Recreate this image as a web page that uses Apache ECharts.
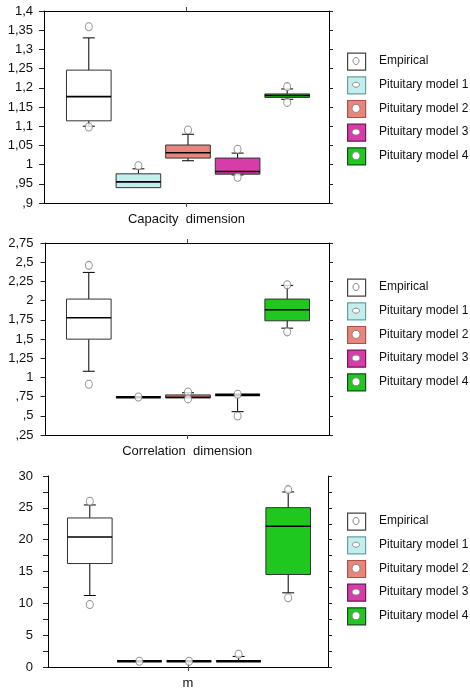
<!DOCTYPE html>
<html>
<head>
<meta charset="utf-8">
<title>Boxplots</title>
<script src="https://cdn.jsdelivr.net/npm/echarts@6/dist/echarts.min.js"></script>
<style>
    html, body { margin: 0; padding: 0; background: #fff; }
    #chart { width: 470px; height: 688px; }
</style>
</head>
<body>
<div id="chart"></div>
<script>
// 分组名称
var groups = ['Empirical', 'Pituitary model 1', 'Pituitary model 2', 'Pituitary model 3', 'Pituitary model 4'];
var panelNames = ['Capacity  dimension', 'Correlation  dimension', 'm'];

// 每组: [min, q1, median, q3, max]
var capacityBoxes = [
    [1.100, 1.114, 1.177, 1.246, 1.330],
    [0.940, 0.940, 0.955, 0.976, 0.989],
    [1.010, 1.017, 1.031, 1.051, 1.079],
    [0.973, 0.975, 0.982, 1.017, 1.030],
    [1.170, 1.175, 1.180, 1.184, 1.197]
];
var capacityOutliers = [[1.359, 1.098], [0.997], [1.090], [1.040, 0.967], [1.203, 1.162]];

var correlationBoxes = [
    [1.080, 1.498, 1.776, 2.020, 2.367],
    [0.740, 0.740, 0.742, 0.744, 0.744],
    [0.735, 0.735, 0.740, 0.772, 0.800],
    [0.554, 0.772, 0.772, 0.774, 0.774],
    [1.641, 1.737, 1.880, 2.020, 2.198]
];
var correlationOutliers = [[2.459, 0.911], [0.745], [0.810, 0.720], [0.780, 0.498], [2.207, 1.593]];

var mBoxes = [
    [11.23, 16.25, 20.43, 23.41, 25.45],
    [0.9, 0.9, 0.9, 0.9, 0.9],
    [0.9, 0.9, 0.9, 0.9, 0.9],
    [0.9, 0.9, 0.9, 0.9, 1.66],
    [11.65, 14.53, 22.10, 25.03, 27.49]
];
var mOutliers = [[26.03, 9.82], [0.9], [0.9], [2.0], [27.86, 10.87]];

// y 轴刻度: [min, max, interval]
var capacityTicks = [0.9, 1.4, 0.05];
var correlationTicks = [0.25, 2.75, 0.25];
var mTicks = [0, 30, 2.5];

var boxColors = ['#ffffff', '#c4eeee', '#e8857c', '#d83ca8', '#1ec81e'];
var legendBorders = ['#444444', '#6a9fa0', '#a8524a', '#6a1a55', '#1a4a1a'];
var legendDots = [[3, 3.5], [3.5, 2.5], [4, 4], [4, 3], [4, 4]];
var font = 'Liberation Sans, Arial, sans-serif';

// 1,35 / ,95 这种写法
function commaLabel(v) {
    var s = String(+v.toFixed(2)).replace('.', ',');
    if (s.indexOf('0,') === 0) s = s.slice(1);
    return s;
}
function fiveLabel(v) {
    return Math.abs(v % 5) < 1e-6 ? String(Math.round(v)) : '';
}

var panels = [
    { boxes: capacityBoxes, outliers: capacityOutliers, ticks: capacityTicks, fmt: commaLabel,
      frame: [44, 11, 285, 192], dataLeft: 64, margin: 11, legendTop: 61 },
    { boxes: correlationBoxes, outliers: correlationOutliers, ticks: correlationTicks, fmt: commaLabel,
      frame: [45.5, 243, 283.5, 192], dataLeft: 64, margin: 12, legendTop: 287 },
    { boxes: mBoxes, outliers: mOutliers, ticks: mTicks, fmt: fiveLabel,
      frame: [48, 476, 280, 191], dataLeft: 65, margin: 15, legendTop: 521 }
];

function renderBox(params, api) {
    var c = api.value(0);
    var lo = api.coord([c, api.value(1)]);
    var q1 = api.coord([c, api.value(2)]);
    var md = api.coord([c, api.value(3)]);
    var q3 = api.coord([c, api.value(4)]);
    var hi = api.coord([c, api.value(5)]);
    var bw = api.size([1, 0])[0] * 0.9;
    var x = q1[0];
    var cap = 6;
    var ls = { stroke: '#000', lineWidth: 1 };
    var kids = [];
    if (q3[1] - hi[1] > 0.5) {
        kids.push({ type: 'line', shape: { x1: x, y1: q3[1], x2: x, y2: hi[1] }, style: ls });
        kids.push({ type: 'line', shape: { x1: x - cap, y1: hi[1], x2: x + cap, y2: hi[1] }, style: ls });
    }
    if (lo[1] - q1[1] > 0.5) {
        kids.push({ type: 'line', shape: { x1: x, y1: q1[1], x2: x, y2: lo[1] }, style: ls });
        kids.push({ type: 'line', shape: { x1: x - cap, y1: lo[1], x2: x + cap, y2: lo[1] }, style: ls });
    }
    kids.push({
        type: 'rect',
        shape: { x: x - bw / 2, y: q3[1], width: bw, height: q1[1] - q3[1] },
        style: { fill: boxColors[params.dataIndex], stroke: '#333', lineWidth: 1 }
    });
    // 箱子压扁时中位线加粗
    var flat = q1[1] - q3[1] < 1.2;
    kids.push({
        type: 'line',
        shape: { x1: x - bw / 2, y1: md[1], x2: x + bw / 2, y2: md[1] },
        style: { stroke: '#000', lineWidth: flat ? 2.6 : 1.6 }
    });
    return { type: 'group', children: kids };
}

var myChart = echarts.init(document.getElementById('chart'), null, { renderer: 'canvas' });

var grid = [], xAxis = [], yAxis = [], series = [], graphic = [];

panels.forEach(function(p, k) {
    var f = p.frame;
    // 外框网格
    grid.push({ left: f[0], top: f[1], width: f[2], height: f[3], outerBoundsMode: 'none' });
    // 数据网格
    grid.push({ left: p.dataLeft, top: f[1], width: 248, height: f[3], outerBoundsMode: 'none' });

    var lineSt = { color: '#000', width: 1 };
    xAxis.push({
        gridIndex: 2 * k, type: 'category', position: 'bottom', data: [panelNames[k]],
        axisLine: { show: true, lineStyle: lineSt },
        axisTick: { show: true, alignWithLabel: true, length: 4, lineStyle: { color: '#444' } },
        axisLabel: { margin: 10, color: '#111', fontSize: 13, fontFamily: font },
        splitLine: { show: false }
    });
    xAxis.push({
        gridIndex: 2 * k, type: 'category', position: 'top', data: [panelNames[k]],
        axisLine: { show: true, lineStyle: lineSt },
        axisTick: { show: true, alignWithLabel: true, length: 4, lineStyle: { color: '#444' } },
        axisLabel: { show: false },
        splitLine: { show: false }
    });
    xAxis.push({ gridIndex: 2 * k + 1, type: 'category', data: groups, show: false });

    yAxis.push({
        gridIndex: 2 * k, type: 'value', position: 'left',
        min: p.ticks[0], max: p.ticks[1], interval: p.ticks[2],
        axisLine: { show: true, lineStyle: lineSt },
        axisTick: { show: true, length: 5, lineStyle: { color: '#222' } },
        axisLabel: { margin: p.margin, color: '#111', fontSize: 13, fontFamily: font, formatter: p.fmt },
        splitLine: { show: false }
    });
    yAxis.push({
        gridIndex: 2 * k, type: 'value', position: 'right',
        min: p.ticks[0], max: p.ticks[1], interval: p.ticks[2],
        axisLine: { show: true, lineStyle: lineSt },
        axisTick: { show: true, length: 4, lineStyle: { color: '#222' } },
        axisLabel: { show: false },
        splitLine: { show: false }
    });
    yAxis.push({
        gridIndex: 2 * k + 1, type: 'value', min: p.ticks[0], max: p.ticks[1], show: false
    });

    series.push({
        type: 'custom',
        xAxisIndex: 3 * k + 2,
        yAxisIndex: 3 * k + 2,
        renderItem: renderBox,
        encode: { x: 0, y: [1, 2, 3, 4, 5] },
        data: p.boxes.map(function(b, i) { return [i].concat(b); }),
        z: 2
    });

    var pts = [];
    p.outliers.forEach(function(list, i) {
        list.forEach(function(v) { pts.push([i, v]); });
    });
    series.push({
        type: 'scatter',
        xAxisIndex: 3 * k + 2,
        yAxisIndex: 3 * k + 2,
        data: pts,
        symbol: 'circle',
        symbolSize: [7, 8],
        itemStyle: { color: '#fff', borderColor: '#777', borderWidth: 1 },
        silent: true,
        z: 3
    });

    // 图例(手画)
    groups.forEach(function(g, i) {
        var cy = p.legendTop + i * 23.7;
        graphic.push({
            type: 'rect', left: 347, top: cy - 8.5,
            shape: { width: 18, height: 17 },
            style: { fill: boxColors[i], stroke: legendBorders[i], lineWidth: 1.2 }
        });
        graphic.push({
            type: 'ellipse',
            shape: { cx: 356, cy: cy, rx: legendDots[i][0], ry: legendDots[i][1] },
            style: { fill: '#fff', stroke: '#888', lineWidth: 1 }
        });
        graphic.push({
            type: 'text', left: 379, top: cy - 6,
            style: { text: g, fill: '#111', font: '12px ' + font }
        });
    });
});

var option = {
    animation: false,
    backgroundColor: '#fff',
    grid: grid,
    xAxis: xAxis,
    yAxis: yAxis,
    series: series,
    graphic: graphic
};
myChart.setOption(option);
</script>
</body>
</html>
